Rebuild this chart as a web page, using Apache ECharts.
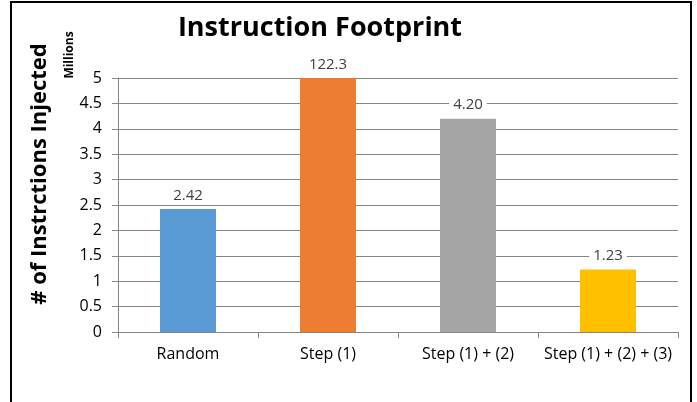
<!DOCTYPE html>
<html>
<head>
<meta charset="utf-8">
<script src="https://cdn.jsdelivr.net/npm/echarts@6/dist/echarts.min.js"></script>
<style>
  html, body { margin: 0; padding: 0; background: #fff; }
  #chart { width: 697px; height: 402px; }
</style>
</head>
<body>
<div id="chart"></div>
<script>
// values in millions; the Step (1) bar runs off the 0–5 axis, so it is drawn at the cap
const categories = ["Random", "Step (1)", "Step (1) + (2)", "Step (1) + (2) + (3)"]
const values = [2.42, 122.3, 4.2, 1.23]
const valueLabels = ["2.42", "122.3", "4.20", "1.23"]
const barColors = ["#5B9BD5", "#ED7D31", "#A5A5A5", "#FFC000"]
const axisMax = 5

const font = "'Open Sans', 'Noto Sans', sans-serif"
const chart = echarts.init(document.getElementById("chart"))

chart.setOption({
  animation: false,
  textStyle: { fontFamily: font },
  grid: { left: 118, right: 19, top: 78, bottom: 70 },
  graphic: [
    // outer frame (bottom edge sits below the crop)
    { type: "rect", shape: { x: 11, y: 2, width: 680, height: 420 },
      style: { fill: null, stroke: "#000", lineWidth: 2 }, silent: true },
    { type: "text", x: 320, y: 28,
      style: { text: "Instruction Footprint", font: "bold 27px " + font, fill: "#000",
               align: "center", verticalAlign: "middle" } },
    { type: "text", x: 40, y: 174, rotation: Math.PI / 2,
      style: { text: "# of Instrctions Injected", font: "bold 22px " + font, fill: "#000",
               align: "center", verticalAlign: "middle" } },
    { type: "text", x: 70, y: 55, rotation: Math.PI / 2,
      style: { text: "Millions", font: "bold 12px " + font, fill: "#000",
               align: "center", verticalAlign: "middle" } },
  ],
  xAxis: {
    type: "category",
    data: categories,
    axisLine: { lineStyle: { color: "#868686" } },
    axisTick: { show: true, length: 6, lineStyle: { color: "#868686" } },
    axisLabel: { color: "#000", fontSize: 16, margin: 14, interval: 0 },
  },
  yAxis: {
    type: "value",
    min: 0,
    max: axisMax,
    interval: 0.5,
    axisLine: { show: true, lineStyle: { color: "#868686" } },
    axisTick: { show: true, length: 6, lineStyle: { color: "#868686" } },
    axisLabel: { color: "#000", fontSize: 16, margin: 16 },
    splitLine: { lineStyle: { color: "#868686" } },
  },
  series: [
    {
      type: "bar",
      barWidth: "40%",
      data: values.map((v, i) => ({
        value: Math.min(v, axisMax),
        itemStyle: { color: barColors[i] },
      })),
      label: {
        show: true,
        position: "top",
        distance: 5,
        color: "#404040",
        fontSize: 15,
        backgroundColor: "#fff",
        padding: [1, 4],
        formatter: (p) => valueLabels[p.dataIndex],
      },
    },
  ],
})
</script>
</body>
</html>
